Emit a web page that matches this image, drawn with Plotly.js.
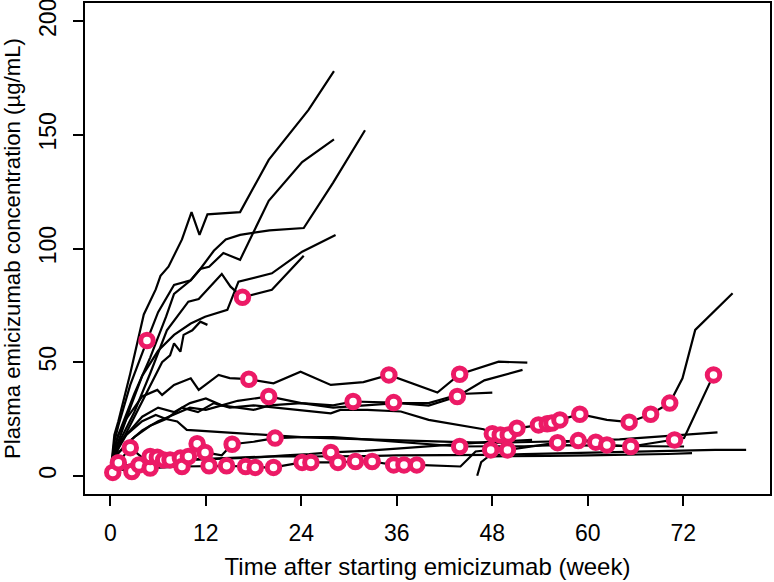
<!DOCTYPE html>
<html><head><meta charset="utf-8">
<script src="https://cdn.plot.ly/plotly-3.0.1.min.js"></script>
<style>html,body{margin:0;padding:0;background:#fff}#chart{width:774px;height:582px}</style>
</head><body><div id="chart"></div>
<script>
// Individual patient profiles: week and plasma concentration (µg/mL)
const wk01=[0,0.5,1,2.5,4.2,5.7,6.3,7.3,9,10.2,11.2,12.2,16.3,19.9,24.9,28.1];
const cn01=[0.5,18,24,45,71,82,88,92,104,116,106,115,116,139,161,178];
const wk02=[0,0.5,1,2.5,4.6,6,8,10.1,11.3,12.4,14.2,16.3,19.9,24.1,28.1];
const cn02=[0.5,15,22,40,59.5,72,84,86,91,92,98,95,121,138,148];
const wk03=[0,0.5,1,3,5,7,8,10.1,11.3,13,14.5,16.3,20,24.3,28,32];
const cn03=[0.5,12,18,36,52,70,80,86,91,99,104,106,108,109,129,152];
const wk04=[0,0.5,1,2.5,4,6,8,10.1,11.9,14.7,16.1,20.3,24.1,28.3];
const cn04=[0.5,10,15,30,44,55,62,67,70,73,85.4,89.1,98.6,105.9];
const wk05=[0,0.5,1,3,5,7.1,9.8,11.1,14,15.1,16.6,20.3,24.3];
const cn05=[0.5,10,14,28,45,64,76.6,77.8,88.8,83.2,78.5,81.8,96.8];
const wk06=[0,0.5,1,3,5,6.5,7.5,8,8.8,9.2,10.3,11.3,12.2];
const cn06=[0.5,8,12,26,40,50,53,58.3,54.6,62,64,67.8,66.4];
const wk07=[0,0.5,1,2,4,5.9,6.5,8,10.1,11.1,13.6,15,17.4,20.5,23.9,27.7,31.8,35,41.1,43.9,48.8,52.4];
const cn07=[0.5,12,18,25,34.9,37.8,35.6,40,42.9,37.8,44.4,43,42.5,40.7,45.8,40,41.2,44.4,36.6,44.7,50.2,49.8];
const wk08=[0,0.5,1,2,4,6,8,10,12,14,16,18,19.9,24,28,30.5,35.6,40,43.6,47,51.8];
const cn08=[0.5,8,12,18,26,30,28,32,34,31,33,34,34.9,32,31,32.7,32.2,30.9,34.9,42,46.6];
const wk09=[0,0.5,1,3,5,7,9,11,13,15,18,21,24,27.7,28.9,32.3,36.5,40,46.9,48,49,50,51.1,53.8,54.9,55.5,56.5,59,62.4,65.2,67.9,70.3,71.9,73.5,78.2];
const cn09=[0.5,8,10,17,22,25,30,28,32,30,31,30,29,27.5,29,29,28.3,24.6,20.5,18.5,18,18,20.9,22.4,22.9,23.2,24.6,27.1,24.6,23.6,27.1,32,42.9,64.2,80.3];
const wk10=[0,0.5,1,2,4,6,8,10,12,14,16,18,20,24,28,32,36,40,44,48];
const cn10=[0.5,6,10,14,20,24,27,30,29,31,30,29,31,32,30,31,32,32,36,36.6];
const wk11=[0,0.5,1,2,4,5.7,7,8.4,9.6,12.6,15.9,20,24,28,32,36,40,44,48,52,56,60,64,68,72,76.3];
const cn11=[0.5,10,14,18,24,26.8,25,23.9,20.2,19.5,18.8,18,17,16.5,16,15.5,15,14.8,14.5,14.8,15,15.5,16,17,18,19.1];
const wk12=[0,0.5,1,2.5,4,5,5.9,6.7,7.5,8.8,9.8,10.9,11.9,14,15.3,18,20.7,24,28,32,36,40,43.9,48,52,56,60,64,68,72.1];
const cn12=[0.5,4,5.8,12.4,8,8.5,8.2,7,7,7.8,8.5,14.1,10.3,9,13.9,15,16.6,17,17,16,15,14,12.9,13,13,13.5,13.5,13.2,13,12.9];
const wk13=[0,0.5,1,3,6,10,14,18,22,25,27.7,32,36,40,44,48,53];
const cn13=[0.5,3,4,5,6,7,7.5,8,9,9.5,10.3,11,12,13,14,15,15.8];
const wk14=[0,0.5,1,3,6,9,12,16,20,24,28,32,36,40,44,48,52,56,60,64,68,72,76,79.9];
const cn14=[0.5,3,4,5,6,7,7.5,8,8.5,8.5,8.5,8.7,9,9,9,9.2,9.5,9.8,10,10.5,10.8,11.2,11.4,11.4];
const wk15=[46.1,46.6,47.5,50,55,60,65,70,73.1];
const cn15=[0,6,8.5,8.5,8.8,9,9.2,9.6,10];
const wk16=[0,0.3,1,2.7,3.6,5,9,12.4,14.6,17,18.2,20.5,24.1,25.2,28.6,30.8,32.9,35.6,36.9,38.5,44,45.9,47.8,49.9,56.2,58.8,61,62.4,65.4,70.9,72.1,75.8];
const cn16=[0,1.5,3,1.9,4.8,3.4,4.1,4.4,4.4,4.1,3.7,3.7,5.9,5.9,5.9,6.3,6.3,4.8,4.8,4.8,4.1,10.7,11.4,11.4,14.6,15.5,14.8,13.6,12.9,15.8,16.6,44.4];

// Highlighted measurements (open pink circles)
const eventWeek=[0.3,1.0,2.5,2.7,3.6,4.6,5.0,5.0,5.9,6.7,7.5,8.8,9.0,9.8,10.9,11.9,12.4,14.6,15.3,16.6,17.0,17.4,18.2,19.9,20.5,20.7,24.1,25.2,27.7,28.6,30.5,30.8,32.9,35.0,35.6,35.6,36.9,38.5,43.6,43.9,43.9,47.8,48,49,50,49.9,51.1,53.8,54.9,55.5,56.5,56.2,59,58.8,61,62.4,65.2,65.4,67.9,70.3,70.9,75.8];
const eventConc=[1.5,5.8,12.4,1.9,4.8,59.5,3.4,8.5,8.2,7,7,7.8,4.1,8.5,14.1,10.3,4.4,4.4,13.9,78.5,4.1,42.5,3.7,34.9,3.7,16.6,5.9,5.9,10.3,5.9,32.7,6.3,6.3,44.4,32.2,4.8,4.8,4.8,34.9,44.7,12.9,11.4,18.5,18,18,11.4,20.9,22.4,22.9,23.2,24.6,14.6,27.1,15.5,14.8,13.6,23.6,12.9,27.1,32,15.8,44.4];

const xTicks=[0,12,24,36,48,60,72];
const yTicks=[0,50,100,150,200];

const profiles=[[wk01,cn01],[wk02,cn02],[wk03,cn03],[wk04,cn04],[wk05,cn05],[wk06,cn06],[wk07,cn07],[wk08,cn08],[wk09,cn09],[wk10,cn10],[wk11,cn11],[wk12,cn12],[wk13,cn13],[wk14,cn14],[wk15,cn15],[wk16,cn16]];

const traces=profiles.map(p=>({x:p[0],y:p[1],type:'scatter',mode:'lines',
  line:{color:'#000',width:2.2},hoverinfo:'skip',showlegend:false}));
traces.push({x:eventWeek,y:eventConc,type:'scatter',mode:'markers',showlegend:false,
  marker:{symbol:'circle',size:12.5,color:'#fff',line:{color:'#EC1A66',width:5}}});

const fam='"Liberation Sans", Arial, sans-serif';
const tickFont={family:fam,size:23,color:'#000'};
const layout={
  width:774,height:582,margin:{l:85,r:4,t:3,b:88},
  paper_bgcolor:'#fff',plot_bgcolor:'#fff',font:{family:fam,size:20,color:'#000'},showlegend:false,
  xaxis:{range:[-3.19,82.9],tickvals:xTicks,ticktext:xTicks.map(String),ticks:'outside',ticklen:10,tickwidth:2,
    tickcolor:'#000',showline:true,mirror:true,linewidth:2,linecolor:'#000',showgrid:false,zeroline:false,
    ticklabelstandoff:7,tickfont:tickFont,
    title:{text:'Time after starting emicizumab (week)',font:{family:fam,size:24,color:'#000'},standoff:14}},
  yaxis:{range:[-8,208],tickvals:yTicks,ticktext:yTicks.map(String),ticks:'outside',ticklen:10,tickwidth:2,
    tickcolor:'#000',showline:true,mirror:true,linewidth:2,linecolor:'#000',showgrid:false,zeroline:false,
    tickangle:-90,ticklabelstandoff:8,tickfont:tickFont,ticklabeloverflow:'allow',
    title:{text:'Plasma emicizumab concentration (µg/mL)',font:{family:fam,size:22.2,color:'#000'},standoff:10}}
};
Plotly.newPlot('chart',traces,layout,{displayModeBar:false,staticPlot:true});
</script></body></html>
